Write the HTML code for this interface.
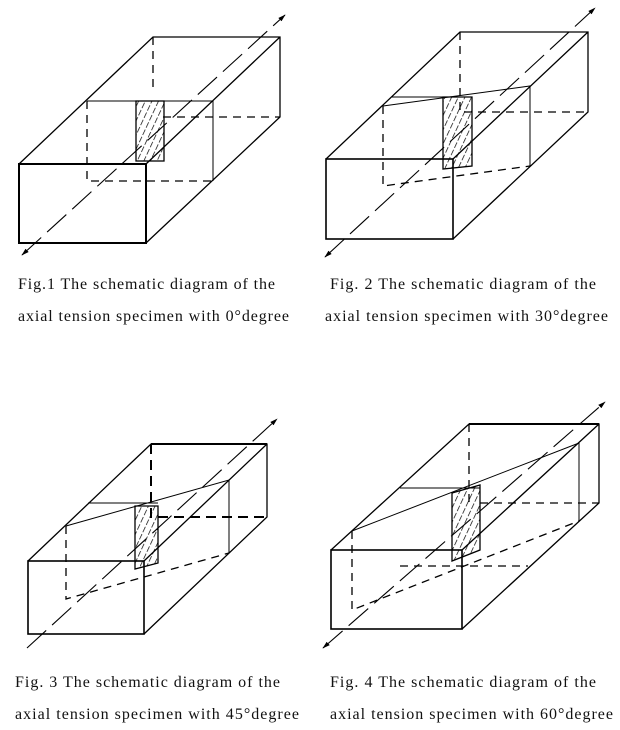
<!DOCTYPE html>
<html><head><meta charset="utf-8"><style>
body{margin:0;background:#fff;width:620px;height:730px;overflow:hidden}
svg{position:absolute;left:0;top:0}
text{font-family:"Liberation Serif",serif;font-size:16px;fill:#111}
</style></head><body>
<svg width="620" height="730" viewBox="0 0 620 730">
<defs>
<marker id="a" viewBox="0 0 10 10" refX="9" refY="5" markerWidth="7" markerHeight="7" orient="auto-start-reverse"><path d="M0,2 L10,5 L0,8 z" fill="#000"/></marker>
<pattern id="h" width="6" height="8" patternUnits="userSpaceOnUse" patternTransform="rotate(25)"><line x1="0" y1="0" x2="0" y2="8" stroke="#000" stroke-width="1.4" stroke-dasharray="6,2"/></pattern>
</defs>
<g fill="none" stroke="#000" stroke-width="1.3">
<!-- Fig1 -->
<rect x="19" y="164" width="127" height="79" stroke-width="2"/>
<path d="M19,164 L153,37 L280,37 L280,117 L146,243 M146,164 L280,37"/>
<path d="M87,101 L213,101 L213,181" stroke-width="1"/>
<path d="M87,101 V181 H213 M153,37 V92 M163,117 H280" stroke-dasharray="8,6"/>
<rect x="136" y="101" width="28" height="60" fill="url(#h)"/>
<path d="M22,255 L285,15" stroke-dasharray="26,8" marker-start="url(#a)" marker-end="url(#a)" stroke-width="1.1"/>
<!-- Fig2 -->
<rect x="326" y="159" width="127" height="80" stroke-width="1.6"/>
<path d="M326,159 L460,32 L588,32 L588,112 L453,239 M453,159 L588,32"/>
<path d="M383,106 L530,86 L530,166 M392,97 H472" stroke-width="1"/>
<path d="M383,106 V186 L530,166 M460,32 V112 H588" stroke-dasharray="8,6"/>
<path d="M443,97 H472 V166 L443,169 Z" fill="url(#h)"/>
<path d="M325,257 L595,8" stroke-dasharray="26,8" marker-start="url(#a)" marker-end="url(#a)" stroke-width="1.1"/>
<!-- Fig3 -->
<rect x="28" y="561" width="116" height="73" stroke-width="1.6"/>
<path d="M28,561 L151,444 L267,444 L267,517 L144,634 M144,561 L267,444"/>
<path d="M151,444 H267" stroke-width="2"/>
<path d="M66,526 L229,480 L229,553 M88,503 H158" stroke-width="1"/>
<path d="M66,526 V599 L229,553" stroke-dasharray="8,6"/>
<path d="M151,444 V517 H267" stroke-dasharray="10,6" stroke-width="2"/>
<path d="M135,506 H158 V563 L135,569 Z" fill="url(#h)"/>
<path d="M27,648 L277,419" stroke-dasharray="26,8" marker-end="url(#a)" stroke-width="1.1"/>
<!-- Fig4 -->
<rect x="331" y="550" width="131" height="79" stroke-width="1.6"/>
<path d="M331,550 L469,424 L599,424 L599,503 L462,629 M462,550 L599,424"/>
<path d="M469,424 H599" stroke-width="2"/>
<path d="M352,531 L579,443 L579,521 M400,488 H480" stroke-width="1"/>
<path d="M352,531 V610 L579,521 M469,424 V503 M480,503 H599 M400,566 H528" stroke-dasharray="8,6"/>
<path d="M452,493 L480,485 V550 L452,561 Z" fill="url(#h)"/>
<path d="M323,648 L605,402" stroke-dasharray="26,8" marker-start="url(#a)" marker-end="url(#a)" stroke-width="1.1"/>
</g>
<text x="18" y="289" textLength="257" lengthAdjust="spacing">Fig.1 The schematic diagram of the</text>
<text x="18" y="321" textLength="271" lengthAdjust="spacing">axial tension specimen with 0°degree</text>
<text x="330" y="289" textLength="266" lengthAdjust="spacing">Fig. 2 The schematic diagram of the</text>
<text x="325" y="321" textLength="283" lengthAdjust="spacing">axial tension specimen with 30°degree</text>
<text x="15" y="687" textLength="265" lengthAdjust="spacing">Fig. 3 The schematic diagram of the</text>
<text x="15" y="719" textLength="284" lengthAdjust="spacing">axial tension specimen with 45°degree</text>
<text x="330" y="687" textLength="266" lengthAdjust="spacing">Fig. 4 The schematic diagram of the</text>
<text x="330" y="719" textLength="283" lengthAdjust="spacing">axial tension specimen with 60°degree</text>
</svg>
</body></html>
